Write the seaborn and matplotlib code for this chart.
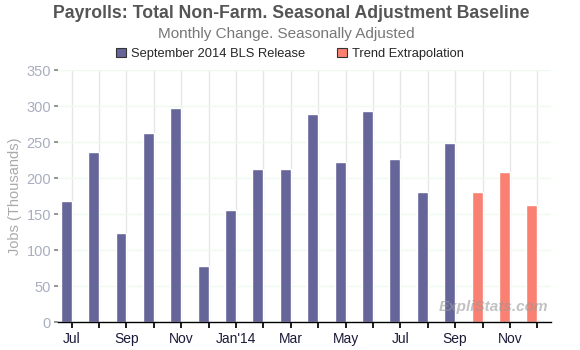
import numpy as np
import pandas as pd
import seaborn as sns
import matplotlib
matplotlib.use('Agg')
from matplotlib import pyplot as plt
from matplotlib.patches import Patch

sns.set_theme(style='white')
plt.rcParams['font.family'] = ['Liberation Sans', 'DejaVu Sans']

# data (thousands of jobs, monthly change)
months = ['Jul 2013', 'Aug 2013', 'Sep 2013', 'Oct 2013', 'Nov 2013', 'Dec 2013',
          'Jan 2014', 'Feb 2014', 'Mar 2014', 'Apr 2014', 'May 2014', 'Jun 2014',
          'Jul 2014', 'Aug 2014', 'Sep 2014', 'Oct 2014', 'Nov 2014', 'Dec 2014']
bls_values = [168, 236, 124, 263, 297, 78, 156, 212, 213, 289, 222, 293, 226, 181, 249]
trend_values = [181, 209, 162]
tick_labels = ['Jul', '', 'Sep', '', 'Nov', '', "Jan'14", '', 'Mar', '', 'May', '',
               'Jul', '', 'Sep', '', 'Nov', '']

bls_name = 'September 2014 BLS Release'
trend_name = 'Trend Extrapolation'
df = pd.DataFrame({
    'month': months,
    'jobs': bls_values + trend_values,
    'series': [bls_name] * len(bls_values) + [trend_name] * len(trend_values),
})
palette = {bls_name: '#65659a', trend_name: '#fa8072'}

fig = plt.figure(figsize=(5.8, 3.5), dpi=100)
ax = fig.add_axes([0.1, 0.08, 0.85, 0.72])

bw = 0.4
sns.barplot(data=df, x='month', y='jobs', hue='series', palette=palette,
            dodge=False, width=bw, saturation=1, legend=False, ax=ax)

# ticks sit on the right edge of each bar
pos = np.arange(len(months)) + bw / 2
ax.set_xticks(pos)
ax.set_xticklabels(tick_labels, fontsize=10, color='#1a1a3a')
ax.set_xlim(pos[0] - 0.5, pos[-1] + 0.5)
ax.set_ylim(0, 350)
ax.set_yticks(range(0, 351, 50))
ax.tick_params(axis='y', labelsize=10.5, labelcolor='#a8aec0', color='#888888',
               length=3, left=True, pad=2)
ax.tick_params(axis='x', color='black', length=4, bottom=True, pad=3)

for sp in ['left', 'right', 'top']:
    ax.spines[sp].set_visible(False)
ax.spines['bottom'].set_color('black')
ax.spines['bottom'].set_linewidth(1)

ax.set_axisbelow(True)
ax.xaxis.grid(True, color='#e6e6e6', linewidth=1)
ax.yaxis.grid(True, color='#effaef', linewidth=1)

ax.set_xlabel('')
ax.set_ylabel('Jobs (Thousands)', fontsize=10.5, color='#aaaaaa', labelpad=3)

fig.text(0.502, 0.962, 'Payrolls: Total Non-Farm. Seasonal Adjustment Baseline',
         ha='center', va='center', fontsize=12.7, color='#555555', fontweight='bold')
fig.text(0.493, 0.902, 'Monthly Change. Seasonally Adjusted',
         ha='center', va='center', fontsize=11, color='#777777')

handles = [Patch(facecolor=palette[bls_name], edgecolor='#333333', linewidth=0.8),
           Patch(facecolor=palette[trend_name], edgecolor='#333333', linewidth=0.8)]
fig.legend(handles, [bls_name, trend_name], loc='center', bbox_to_anchor=(0.5, 0.846),
           ncol=2, frameon=False, fontsize=9.25, handlelength=0.78, handleheight=0.78,
           handletextpad=0.4, columnspacing=2.5, borderpad=0)

ax.text(0.995, 0.03, 'ExpliStats.com', transform=ax.transAxes, ha='right', va='bottom',
        fontsize=11, fontstyle='italic', fontweight='bold', color='#999999', alpha=0.6)

fig.savefig('out.png', dpi=100)
